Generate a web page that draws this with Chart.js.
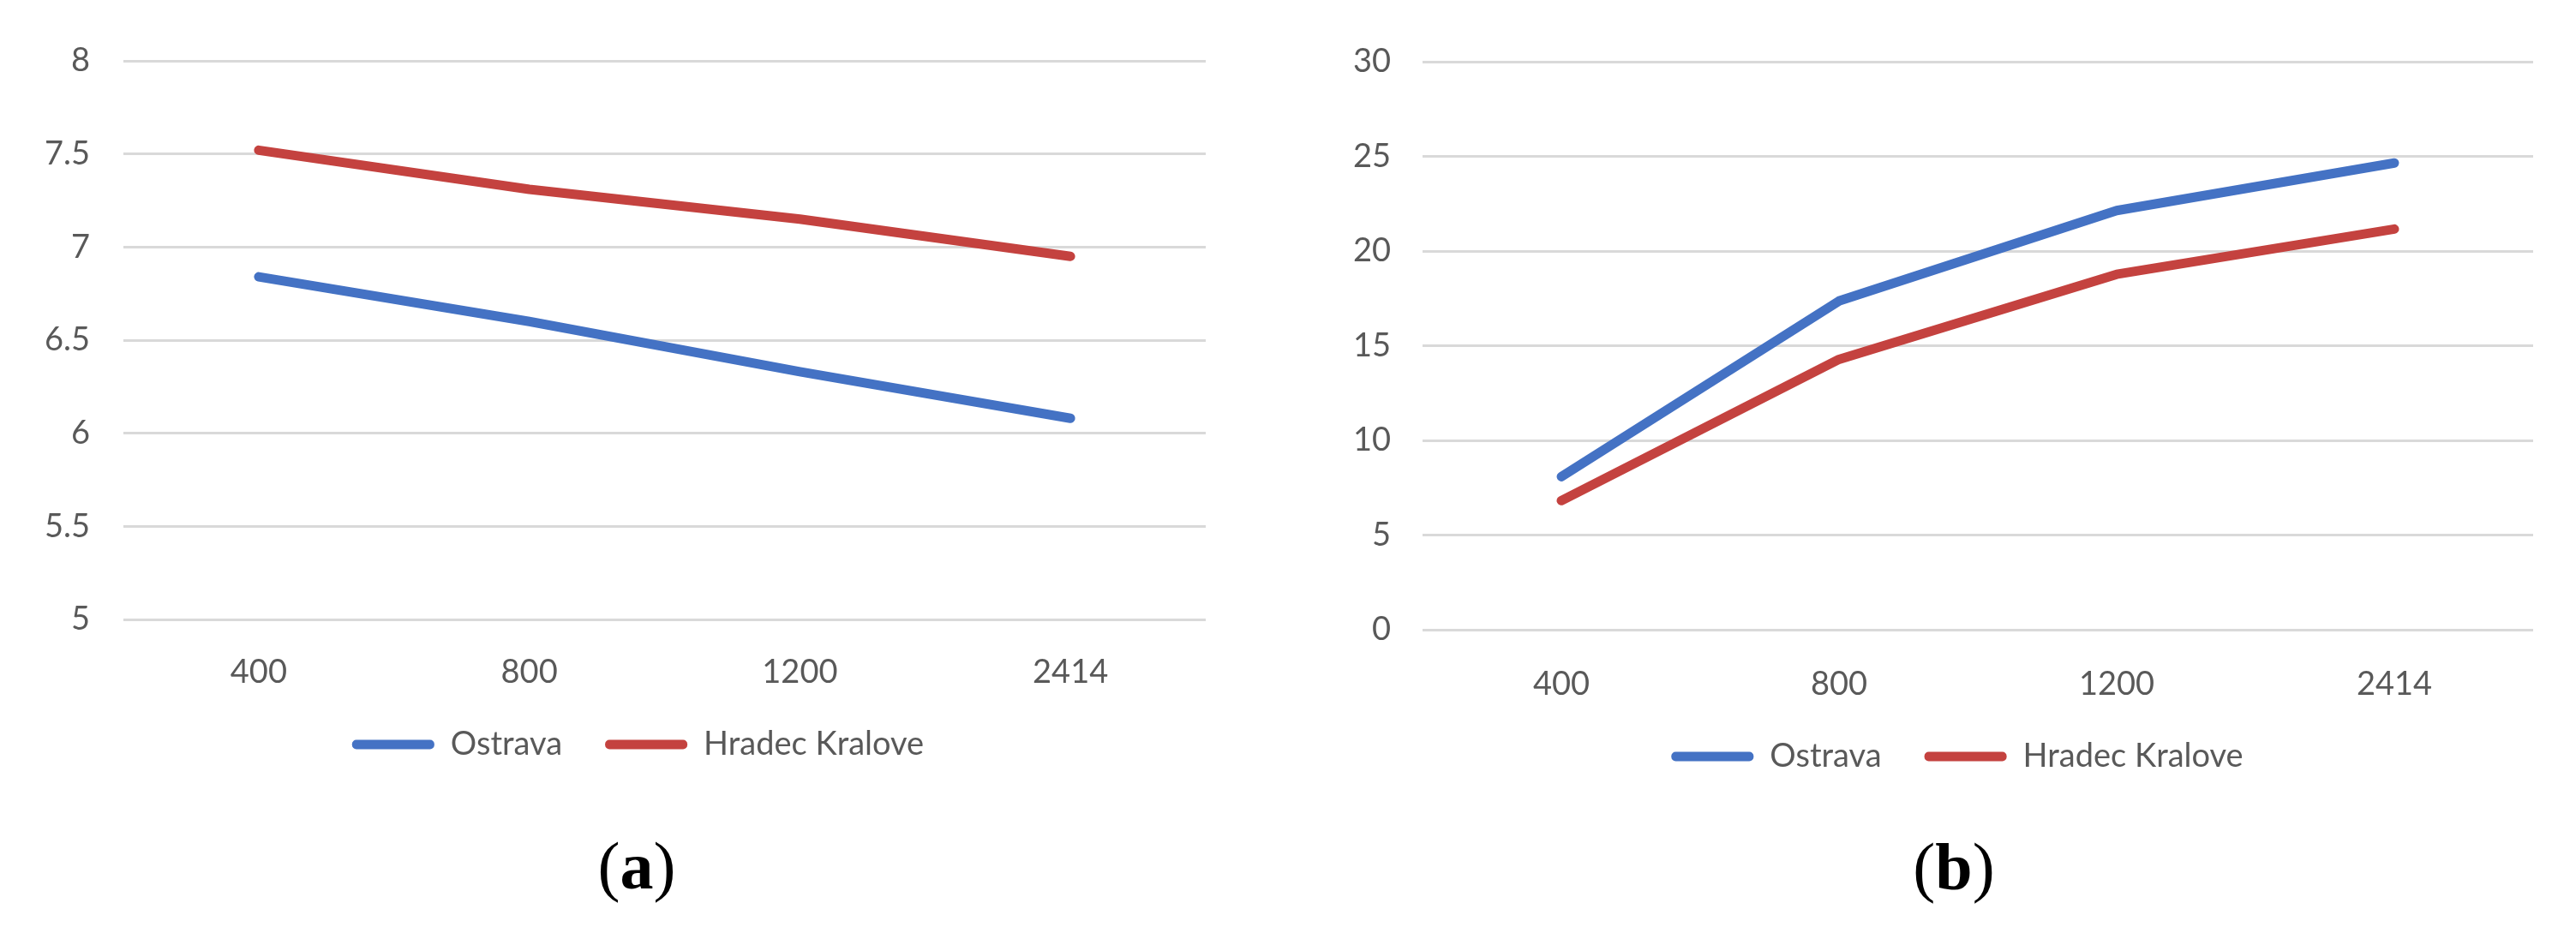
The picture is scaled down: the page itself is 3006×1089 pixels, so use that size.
<!DOCTYPE html>
<html lang="en">
<head>
  <meta charset="UTF-8">
  <title>Ostrava vs Hradec Kralove</title>
  <script src="https://cdn.jsdelivr.net/npm/chart.js"></script>
  <style>
    body { margin: 0; background: #fff; width: 3006px; height: 1089px; position: relative; overflow: hidden; }
    .wrap { position: absolute; top: 0; }
    .caption { position: absolute; width: 200px; text-align: center; font-family: "Liberation Serif", serif; font-size: 78px; line-height: 1; color: #000; }
  </style>
</head>
<body>
  <div class="wrap" style="left:0px"><canvas id="chartA" width="1500" height="898"></canvas></div>
  <div class="wrap" style="left:1500px"><canvas id="chartB" width="1506" height="912"></canvas></div>
  <div class="caption" style="left:643px; top:972px">(<b>a</b>)</div>
  <div class="caption" style="left:2180px; top:973px">(<b>b</b>)</div>
  <script>
    // categories and values
    const categories = ['400', '800', '1200', '2414'];
    const seriesNames = ['Ostrava', 'Hradec Kralove'];
    const ostravaA = [6.84, 6.60, 6.33, 6.08];
    const hradecA = [7.52, 7.31, 7.15, 6.95];
    const ostravaB = [8.08, 17.36, 22.14, 24.65];
    const hradecB = [6.82, 14.28, 18.77, 21.16];

    const blue = '#4472C4';
    const red = '#C4423F';
    const tickColor = '#595959';
    const gridColor = '#D9D9D9';
    const font = { family: 'Lato', size: 38 };

    // the legend in the original sits a bit off the middle of the canvas
    const legendShift = {
      id: 'legendShift',
      afterLayout(chart, args, opts) {
        if (!chart.legend) return;
        chart.legend.left += opts.dx;
        chart.legend.right += opts.dx;
      }
    };

    function makeDataset(name, values, color) {
      return {
        label: name,
        data: values,
        borderColor: color,
        backgroundColor: color,
        borderWidth: 11,
        borderCapStyle: 'round',
        borderJoinStyle: 'round',
        pointRadius: 0,
        tension: 0
      };
    }

    function makeChart(id, sets, yMin, yMax, yStep, pad, yWidth, yPad, xHeight, xPad, dx) {
      const ctx = document.getElementById(id).getContext('2d');
      return new Chart(ctx, {
        type: 'line',
        data: { labels: categories, datasets: sets },
        plugins: [legendShift],
        options: {
          responsive: false,
          animation: false,
          layout: { padding: pad },
          plugins: {
            tooltip: { enabled: false },
            legendShift: { dx: dx },
            legend: {
              position: 'bottom',
              labels: {
                color: tickColor,
                font: font,
                boxWidth: 96,
                boxHeight: 11,
                padding: 50,
                generateLabels: chart => chart.data.datasets.map((ds, i) => ({
                  text: ds.label,
                  fillStyle: ds.borderColor,
                  strokeStyle: ds.borderColor,
                  lineWidth: 0,
                  borderRadius: 5,
                  fontColor: tickColor,
                  datasetIndex: i
                }))
              }
            }
          },
          scales: {
            x: {
              offset: true,
              grid: { display: false },
              border: { display: false },
              ticks: { color: tickColor, font: font, padding: xPad },
              afterFit: scale => { scale.height = xHeight; }
            },
            y: {
              min: yMin,
              max: yMax,
              ticks: {
                stepSize: yStep,
                color: tickColor,
                font: font,
                padding: yPad,
                callback: v => String(Math.round(v * 10) / 10)
              },
              grid: { color: gridColor, lineWidth: 3, drawTicks: false },
              border: { display: false },
              afterFit: scale => { scale.width = yWidth; }
            }
          }
        }
      });
    }

    makeChart('chartA',
      [makeDataset(seriesNames[0], ostravaA, blue), makeDataset(seriesNames[1], hradecA, red)],
      5, 8, 0.5,
      { top: 71, left: 20, right: 93, bottom: 0 }, 124, 39, 77, 31, 31);

    makeChart('chartB',
      [makeDataset(seriesNames[0], ostravaB, blue), makeDataset(seriesNames[1], hradecB, red)],
      0, 30, 5,
      { top: 72, left: 20, right: 50, bottom: 0 }, 140, 37, 79, 33, 46);
  </script>
</body>
</html>
